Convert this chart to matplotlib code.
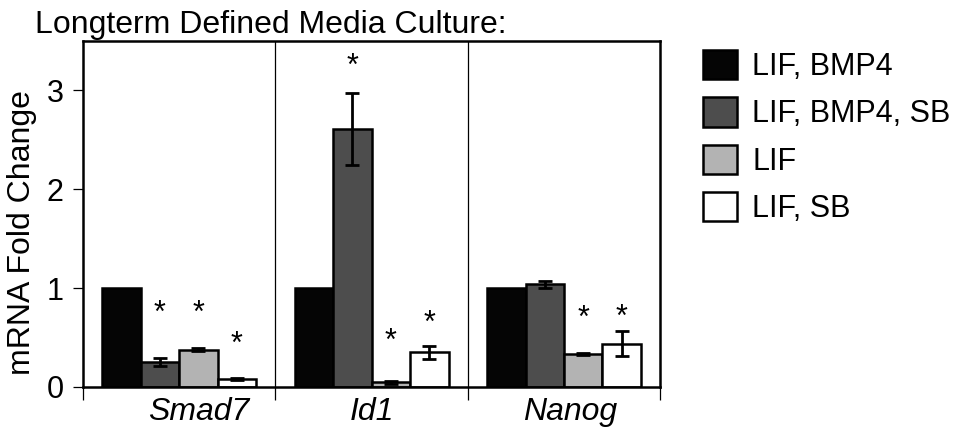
import numpy as np
import matplotlib.pyplot as plt
from matplotlib.ticker import FixedLocator
from matplotlib.transforms import ScaledTranslation

plt.rcParams['font.family'] = ['Liberation Sans', 'DejaVu Sans']

# dati
genes = ["Smad7", "Id1", "Nanog"]
conditions = ["LIF, BMP4", "LIF, BMP4, SB", "LIF", "LIF, SB"]
colors = ["#050505", "#4d4d4d", "#b3b3b3", "#ffffff"]

lif_bmp4 = [1.0, 1.0, 1.0]
lif_bmp4_sb = [0.25, 2.61, 1.04]
lif = [0.375, 0.05, 0.335]
lif_sb = [0.08, 0.35, 0.44]

err_lif_bmp4 = [0.0, 0.0, 0.0]
err_lif_bmp4_sb = [0.04, 0.36, 0.035]
err_lif = [0.015, 0.015, 0.012]
err_lif_sb = [0.012, 0.065, 0.13]

# asterischi (altezza in unita' di y, None = nessuno)
star_lif_bmp4 = [None, None, None]
star_lif_bmp4_sb = [0.81, 3.31, None]
star_lif = [0.81, 0.53, 0.76]
star_lif_sb = [0.50, 0.71, 0.77]

values = [lif_bmp4, lif_bmp4_sb, lif, lif_sb]
errors = [err_lif_bmp4, err_lif_bmp4_sb, err_lif, err_lif_sb]
stars = [star_lif_bmp4, star_lif_bmp4_sb, star_lif, star_lif_sb]

fig = plt.figure(figsize=(9.61, 4.30), dpi=100)
ax = fig.add_axes([0.0864, 0.1, 0.6006, 0.8047])

x = np.arange(len(genes))
w = 0.2
offsets = [-1.5, -0.5, 0.5, 1.5]
handles = []
for i in range(4):
    xi = x + offsets[i] * w
    b = ax.bar(xi, values[i], w, color=colors[i], edgecolor="black",
               linewidth=1.8, label=conditions[i], zorder=2)
    handles.append(b)
    for j in range(len(genes)):
        if errors[i][j] > 0:
            ax.errorbar(xi[j], values[i][j], yerr=errors[i][j], fmt="none",
                        ecolor="black", elinewidth=2, capsize=5, capthick=2, zorder=3)
        if stars[i][j] is not None:
            # l'asterisco sta in alto nel box del testo: abbasso un po'
            ax.annotate("*", (xi[j], stars[i][j]), xytext=(0, -7),
                        textcoords="offset pixels", ha="center", va="center",
                        fontsize=22, zorder=4)

# separatori tra i geni
for s in [0.5, 1.5]:
    ax.axvline(s, color="black", linewidth=0.9, zorder=1)

ax.set_xlim(-0.5, 2.5)
ax.set_ylim(0, 3.5)
ax.set_yticks([0, 1, 2, 3])
ax.set_xticks(x)
ax.set_xticklabels(genes, fontstyle="italic", fontsize=23)
ax.tick_params(axis="x", which="major", length=0, pad=7)
ax.xaxis.set_minor_locator(FixedLocator([-0.5, 0.5, 1.5, 2.5]))
ax.tick_params(axis="x", which="minor", length=9, width=0.9, direction="out")
ax.tick_params(axis="y", labelsize=22, length=7, width=0.9, pad=7)
for sp in ax.spines.values():
    sp.set_linewidth(1.8)
ax.set_ylabel("mRNA Fold Change", fontsize=23)
ax.yaxis.set_label_coords(-0.08, 0.445)

# le etichette dei geni nel originale non sono proprio centrate
shift_px = [19, 0, 6]
for lab, dx in zip(ax.get_xticklabels(), shift_px):
    lab.set_transform(lab.get_transform() + ScaledTranslation(dx / 100, 0, fig.dpi_scale_trans))

fig.text(0.036, 0.923, "Longterm Defined Media Culture:", fontsize=23, ha="left", va="baseline")

fig.legend(handles=handles, loc="upper left", bbox_to_anchor=(0.719, 0.912),
           frameon=False, fontsize=22, handlelength=1.1, handleheight=1.1,
           handletextpad=0.5, labelspacing=0.5, borderaxespad=0)

plt.savefig("out.png", dpi=100)
